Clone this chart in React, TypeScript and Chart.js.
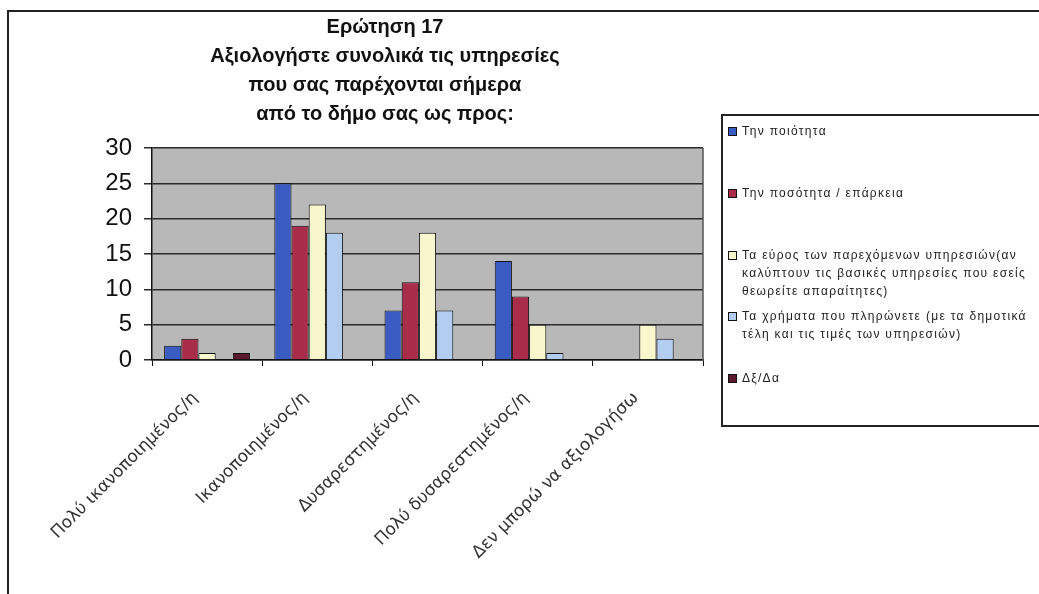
import React, { useEffect, useRef } from "react";
import { Chart, registerables } from "chart.js";

Chart.register(...registerables);

const titleLines = [
  "Ερώτηση 17",
  "Αξιολογήστε συνολικά τις υπηρεσίες",
  "που σας παρέχονται σήμερα",
  "από το δήμο σας ως προς:",
];

const categories = [
  "Πολύ ικανοποιημένος/η",
  "Ικανοποιημένος/η",
  "Δυσαρεστημένος/η",
  "Πολύ δυσαρεστημένος/η",
  "Δεν μπορώ να αξιολογήσω",
];

const seriesNames = [
  "Την ποιότητα",
  "Την ποσότητα / επάρκεια",
  "Τα εύρος των παρεχόμενων υπηρεσιών(αν\nκαλύπτουν τις βασικές υπηρεσίες που εσείς\nθεωρείτε απαραίτητες)",
  "Τα χρήματα που πληρώνετε (με τα δημοτικά\nτέλη και τις τιμές των υπηρεσιών)",
  "Δξ/Δα",
];

const quality = [2, 25, 7, 14, 0];
const quantity = [3, 19, 11, 9, 0];
const range = [1, 22, 18, 5, 5];
const money = [0, 18, 7, 1, 3];
const noAnswer = [1, 0, 0, 0, 0];

const seriesValues = [quality, quantity, range, money, noAnswer];
const seriesColors = ["#3a5cc2", "#a92c4a", "#f8f6cc", "#b2cdf0", "#5c1a2e"];

const yMin = 0;
const yMax = 30;
const yStep = 5;

const FONT = "'Liberation Sans', Arial, sans-serif";

const plotDecor = {
  id: "plotDecor",
  beforeDraw(chart: any) {
    const { ctx, chartArea: a } = chart;
    ctx.save();
    ctx.fillStyle = "#b8b8b8";
    ctx.fillRect(a.left, a.top, a.right - a.left, a.bottom - a.top);
    ctx.restore();
  },
  beforeDatasetsDraw(chart: any) {
    const { ctx, chartArea: a } = chart;
    ctx.save();
    ctx.strokeStyle = "#555";
    ctx.lineWidth = 1.5;
    ctx.beginPath();
    ctx.moveTo(a.right, a.top);
    ctx.lineTo(a.right, a.bottom);
    ctx.stroke();
    ctx.restore();
  },
};

export default function App() {
  const canvasRef = useRef<HTMLCanvasElement | null>(null);

  useEffect(() => {
    const canvas = canvasRef.current;
    if (!canvas) return;
    const chart = new Chart(canvas, {
      type: "bar",
      data: {
        labels: categories,
        datasets: seriesValues.map((vals, i) => ({
          label: seriesNames[i],
          data: vals,
          backgroundColor: seriesColors[i],
          borderColor: "#111",
          borderWidth: 1,
          barPercentage: 1,
          categoryPercentage: 0.78,
        })),
      },
      options: {
        responsive: false,
        animation: false,
        devicePixelRatio: 1,
        layout: { padding: { top: 148, right: 336, left: 0, bottom: 0 } },
        plugins: {
          legend: { display: false },
          title: { display: false },
          tooltip: { enabled: false },
        },
        scales: {
          x: {
            afterFit(scale: any) {
              scale.height = 234;
            },
            grid: {
              display: true,
              drawOnChartArea: false,
              drawTicks: true,
              tickLength: 6,
              color: "#111",
              offset: true,
            },
            border: { display: true, color: "#111", width: 1.5 },
            ticks: {
              autoSkip: false,
              minRotation: 45,
              maxRotation: 45,
              padding: 22,
              labelOffset: -12,
              color: "#333",
              font: { family: "'DejaVu Sans', sans-serif", size: 17 },
            },
          },
          y: {
            min: yMin,
            max: yMax,
            afterFit(scale: any) {
              scale.width = 152;
            },
            grid: {
              color: "#2a2a2a",
              lineWidth: 1.5,
              drawTicks: true,
              tickLength: 8,
            },
            border: { display: true, color: "#111", width: 1.5 },
            ticks: {
              stepSize: yStep,
              padding: 12,
              color: "#111",
              font: { family: FONT, size: 24 },
            },
          },
        },
      },
      plugins: [plotDecor],
    });
    return () => chart.destroy();
  }, []);

  return (
    <div
      style={{
        position: "fixed",
        left: 0,
        top: 0,
        width: 1039,
        height: 594,
        overflow: "hidden",
        background: "#fff",
      }}
    >
      <div
        style={{
          position: "absolute",
          left: 7,
          top: 10,
          width: 1100,
          height: 700,
          borderTop: "2px solid #222",
          borderLeft: "2px solid #222",
        }}
      />
      <canvas
        ref={canvasRef}
        width={1039}
        height={594}
        style={{ position: "absolute", left: 0, top: 0 }}
      />
      <div
        style={{
          position: "absolute",
          left: 185,
          top: 12,
          width: 400,
          textAlign: "center",
          fontFamily: FONT,
          fontWeight: "bold",
          fontSize: 20,
          lineHeight: "29px",
          color: "#111",
        }}
      >
        {titleLines.map((t, i) => (
          <div key={i}>{t}</div>
        ))}
      </div>
      <div
        style={{
          position: "absolute",
          left: 721,
          top: 114,
          width: 340,
          height: 313,
          boxSizing: "border-box",
          border: "2px solid #222",
          display: "flex",
          flexDirection: "column",
          fontFamily: FONT,
          fontSize: 12,
          letterSpacing: "1.3px",
          color: "#222",
        }}
      >
        {seriesNames.map((name, i) => (
          <div
            key={i}
            style={{
              flex: 1,
              display: "flex",
              alignItems: "flex-start",
              paddingTop: 6,
              paddingLeft: 5,
            }}
          >
            <span
              style={{
                display: "inline-block",
                width: 7,
                height: 7,
                marginTop: 5,
                marginRight: 5,
                background: seriesColors[i],
                border: "1px solid #111",
                flex: "none",
              }}
            />
            <span style={{ whiteSpace: "pre", lineHeight: "18px" }}>{name}</span>
          </div>
        ))}
      </div>
    </div>
  );
}
